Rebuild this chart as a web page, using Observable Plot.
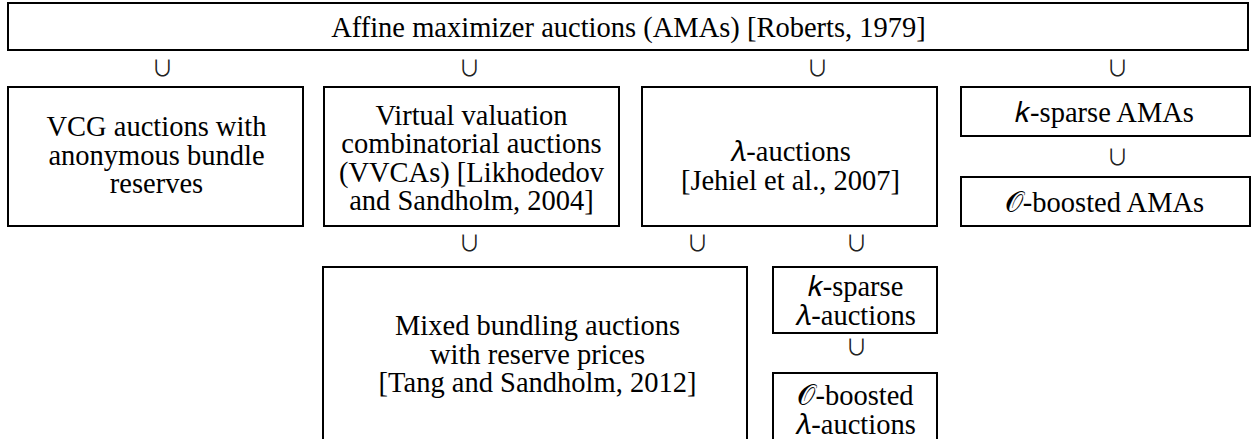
<!DOCTYPE html>
<html>
<head>
<meta charset="utf-8">
<script src="https://cdn.jsdelivr.net/npm/d3@7"></script>
<script src="https://cdn.jsdelivr.net/npm/@observablehq/plot@0.6"></script>
<style>
  html, body { margin: 0; padding: 0; background: #fff; overflow: hidden; }
  #chart svg { display: block; overflow: hidden; }
</style>
</head>
<body>
<div id="chart"></div>
<script>
// Diagram content: each box's label and its extent in diagram units (px of the 1255x439 page)
const boxLabels = [
  "Affine maximizer auctions (AMAs) [Roberts, 1979]",
  "VCG auctions with\nanonymous bundle\nreserves",
  "Virtual valuation\ncombinatorial auctions\n(VVCAs) [Likhodedov\nand Sandholm, 2004]",
  "𝜆-auctions\n[Jehiel et al., 2007]",
  "𝑘-sparse AMAs",
  "𝒪-boosted AMAs",
  "Mixed bundling auctions\nwith reserve prices\n[Tang and Sandholm, 2012]",
  "𝑘-sparse\n𝜆-auctions",
  "𝒪-boosted\n𝜆-auctions"
];
const boxX1 = [8, 8, 324, 642, 961, 961, 323, 773, 773];
const boxX2 = [1248, 303, 619, 937, 1250, 1250, 747, 937, 937];
const boxY1 = [3, 87, 87, 87, 87, 177, 267, 267, 373];
const boxY2 = [50, 226, 226, 226, 136, 226, 470, 333, 470];
const labelX = [628, 156, 471, 790, 1104, 1104, 537, 855, 855];
const labelY = [27, 155, 158, 166, 112, 202, 354, 301, 410];

// Subset (∪) relation markers
const unionX = [162, 469, 817, 1117, 1117, 469, 697, 856, 856];
const unionY = [68, 68, 68, 68, 157, 243, 243, 243, 347];

const boxes = boxLabels.map((label, i) => ({
  label, x1: boxX1[i], x2: boxX2[i], y1: boxY1[i], y2: boxY2[i], lx: labelX[i], ly: labelY[i]
}));
const unions = unionX.map((x, i) => ({x, y: unionY[i]}));

const serif = "'Liberation Serif', serif";
const cupFont = "'Noto Sans CJK JP', 'DejaVu Sans', sans-serif";

const plot = Plot.plot({
  width: 1255,
  height: 439,
  margin: 0,
  x: {domain: [0, 1255], range: [0, 1255], axis: null},
  y: {domain: [0, 439], range: [0, 439], axis: null},
  marks: [
    Plot.rect(boxes, {x1: "x1", x2: "x2", y1: "y1", y2: "y2", fill: "white", stroke: "black", strokeWidth: 2}),
    Plot.text(boxes, {x: "lx", y: "ly", text: "label", fontSize: 28.5, lineHeight: 1.0, fill: "black", textAnchor: "middle"}),
    Plot.text(unions, {x: "x", y: "y", text: () => "∪", fontSize: 22, fill: "#222", textAnchor: "middle"})
  ]
});
document.getElementById("chart").appendChild(plot);

// Apply the LaTeX-like serif face directly on every text element
plot.removeAttribute("font-family");
plot.querySelectorAll("g").forEach(g => g.removeAttribute("font-family"));
plot.querySelectorAll("text").forEach(t => {
  const fam = t.textContent === "∪" ? cupFont : serif;
  t.setAttribute("font-family", fam);
  t.style.fontFamily = fam;
});
</script>
</body>
</html>
